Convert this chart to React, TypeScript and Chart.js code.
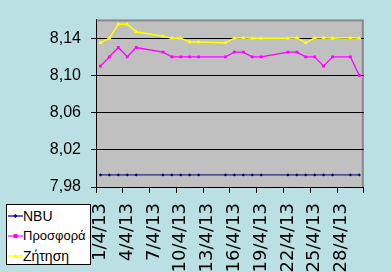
import React, { useEffect, useRef } from 'react';
import { Chart, registerables } from 'chart.js';

Chart.register(...registerables);

const DATES = [
  '1/4/13', '2/4/13', '3/4/13', '4/4/13', '5/4/13', '6/4/13', '7/4/13', '8/4/13', '9/4/13', '10/4/13',
  '11/4/13', '12/4/13', '13/4/13', '14/4/13', '15/4/13', '16/4/13', '17/4/13', '18/4/13', '19/4/13', '20/4/13',
  '21/4/13', '22/4/13', '23/4/13', '24/4/13', '25/4/13', '26/4/13', '27/4/13', '28/4/13', '29/4/13', '30/4/13',
];

const NBU = [
  7.993, 7.993, 7.993, 7.993, 7.993, null, null, 7.993, 7.993, 7.993,
  7.993, 7.993, null, null, 7.993, 7.993, 7.993, 7.993, 7.993, null,
  null, 7.993, 7.993, 7.993, 7.993, 7.993, 7.993, null, 7.993, 7.993,
];

const OFFER = [
  8.11, 8.12, 8.13, 8.12, 8.13, null, null, 8.125, 8.12, 8.12,
  8.12, 8.12, null, null, 8.12, 8.125, 8.125, 8.12, 8.12, null,
  null, 8.125, 8.125, 8.12, 8.12, 8.11, 8.12, null, 8.12, 8.10,
];

const DEMAND = [
  8.135, 8.14, 8.155, 8.155, 8.147, null, null, 8.142, 8.14, 8.14,
  8.136, 8.136, null, null, 8.135, 8.14, 8.1405, 8.14, 8.14, null,
  null, 8.14, 8.1405, 8.135, 8.1405, 8.1405, 8.14, null, 8.1405, 8.14,
];

const SERIES_NAMES = ['NBU', 'Προσφορά', 'Ζήτηση'];
const SERIES_COLORS = ['#000080', '#FF00FF', '#FFFF00'];

const Y_TICKS = [7.98, 8.02, 8.06, 8.10, 8.14];
const Y_MIN = 7.98;
const Y_MAX = 8.16;

const BG = '#BAE0E4';
const FONT = "'Liberation Sans', Arial, sans-serif";
const XFONT = "'DejaVu Sans', 'Liberation Sans', sans-serif";

const plotBg = {
  id: 'plotBg',
  beforeDraw(chart: any) {
    const { ctx, chartArea: a } = chart;
    ctx.save();
    ctx.fillStyle = BG;
    ctx.fillRect(0, 0, chart.width, chart.height);
    ctx.fillStyle = '#C0C0C0';
    ctx.fillRect(a.left, a.top, a.right - a.left, a.bottom - a.top);
    ctx.strokeStyle = '#8A8A8A';
    ctx.lineWidth = 2;
    ctx.beginPath();
    ctx.moveTo(a.left, a.top + 1);
    ctx.lineTo(a.right - 1, a.top + 1);
    ctx.lineTo(a.right - 1, a.bottom);
    ctx.stroke();
    ctx.restore();
  },
};

function Swatch({ color, kind }: { color: string; kind: string }) {
  return (
    <svg width={15} height={8} style={{ display: 'block' }}>
      <line x1={0} y1={4} x2={15} y2={4} stroke={color} strokeWidth={1.2} />
      {kind === 'diamond' && <polygon points="7.5,2 9.5,4 7.5,6 5.5,4" fill={color} />}
      {kind === 'rect' && <rect x={5.5} y={2} width={4} height={4} fill={color} />}
      {kind === 'tri' && <polygon points="7.5,1.5 10,6 5,6" fill={color} />}
    </svg>
  );
}

export default function App() {
  const ref = useRef<HTMLCanvasElement>(null);

  useEffect(() => {
    if (!ref.current) return;
    const chart = new Chart(ref.current, {
      type: 'line',
      data: {
        labels: DATES,
        datasets: [
          {
            label: SERIES_NAMES[0],
            data: NBU,
            borderColor: SERIES_COLORS[0],
            backgroundColor: SERIES_COLORS[0],
            borderWidth: 1,
            pointStyle: 'rectRot',
            pointRadius: 1.6,
            pointBorderWidth: 0,
            spanGaps: true,
            tension: 0,
          },
          {
            label: SERIES_NAMES[1],
            data: OFFER,
            borderColor: SERIES_COLORS[1],
            backgroundColor: SERIES_COLORS[1],
            borderWidth: 1.3,
            pointStyle: 'rect',
            pointRadius: 2,
            pointBorderWidth: 0,
            spanGaps: true,
            tension: 0,
          },
          {
            label: SERIES_NAMES[2],
            data: DEMAND,
            borderColor: SERIES_COLORS[2],
            backgroundColor: SERIES_COLORS[2],
            borderWidth: 1.5,
            pointStyle: 'triangle',
            pointRadius: 2.5,
            pointBorderWidth: 0,
            spanGaps: true,
            tension: 0,
          },
        ],
      },
      options: {
        animation: false,
        responsive: false,
        devicePixelRatio: 1,
        layout: { padding: { left: 0, right: 3, top: 9, bottom: 0 } },
        plugins: {
          legend: { display: false },
          tooltip: { enabled: false },
          title: { display: false },
        },
        scales: {
          x: {
            type: 'category',
            offset: true,
            afterFit: (s: any) => {
              s.height = 85;
            },
            grid: {
              offset: true,
              drawOnChartArea: false,
              tickLength: 6,
              lineWidth: 1,
              color: (c: any) =>
                c.index === undefined || c.index % 3 === 0 ? '#000' : 'rgba(0,0,0,0)',
            },
            border: { color: '#000', width: 1 },
            ticks: {
              autoSkip: false,
              maxRotation: 90,
              minRotation: 90,
              padding: 10,
              color: '#000',
              font: { family: XFONT, size: 18 },
              callback: (_v: any, i: number) => (i % 3 === 0 ? DATES[i] : ''),
            },
          },
          y: {
            min: Y_MIN,
            max: Y_MAX,
            afterBuildTicks: (s: any) => {
              s.ticks = Y_TICKS.map((v) => ({ value: v }));
            },
            afterFit: (s: any) => {
              s.width = 96;
            },
            grid: { color: '#000', lineWidth: 1, tickLength: 5, tickColor: '#000' },
            border: { color: '#000', width: 1 },
            ticks: {
              color: '#000',
              padding: 10,
              font: { family: FONT, size: 16 },
              callback: (v: any) => Number(v).toFixed(2).replace('.', ','),
            },
          },
        },
      },
      plugins: [plotBg],
    });
    return () => chart.destroy();
  }, []);

  const kinds = ['diamond', 'rect', 'tri'];

  return (
    <div
      style={{
        position: 'fixed',
        left: 0,
        top: 0,
        width: 391,
        height: 272,
        background: BG,
        overflow: 'hidden',
      }}
    >
      <canvas ref={ref} width={391} height={272} style={{ display: 'block', width: 391, height: 272 }} />
      <div
        style={{
          position: 'absolute',
          left: 6,
          top: 204,
          width: 85,
          height: 61,
          boxSizing: 'border-box',
          border: '1px solid #000',
          background: '#fff',
          paddingTop: 1,
          fontFamily: FONT,
          fontSize: 13,
          color: '#000',
          overflow: 'hidden',
        }}
      >
        {SERIES_NAMES.map((n, i) => (
          <div key={n} style={{ display: 'flex', alignItems: 'center', height: 20, lineHeight: '20px' }}>
            <div style={{ width: 16, display: 'flex', justifyContent: 'center' }}>
              <Swatch color={SERIES_COLORS[i]} kind={kinds[i]} />
            </div>
            <span style={{ whiteSpace: 'nowrap', fontSize: i === 1 ? 13 : 14 }}>{n}</span>
          </div>
        ))}
      </div>
    </div>
  );
}
